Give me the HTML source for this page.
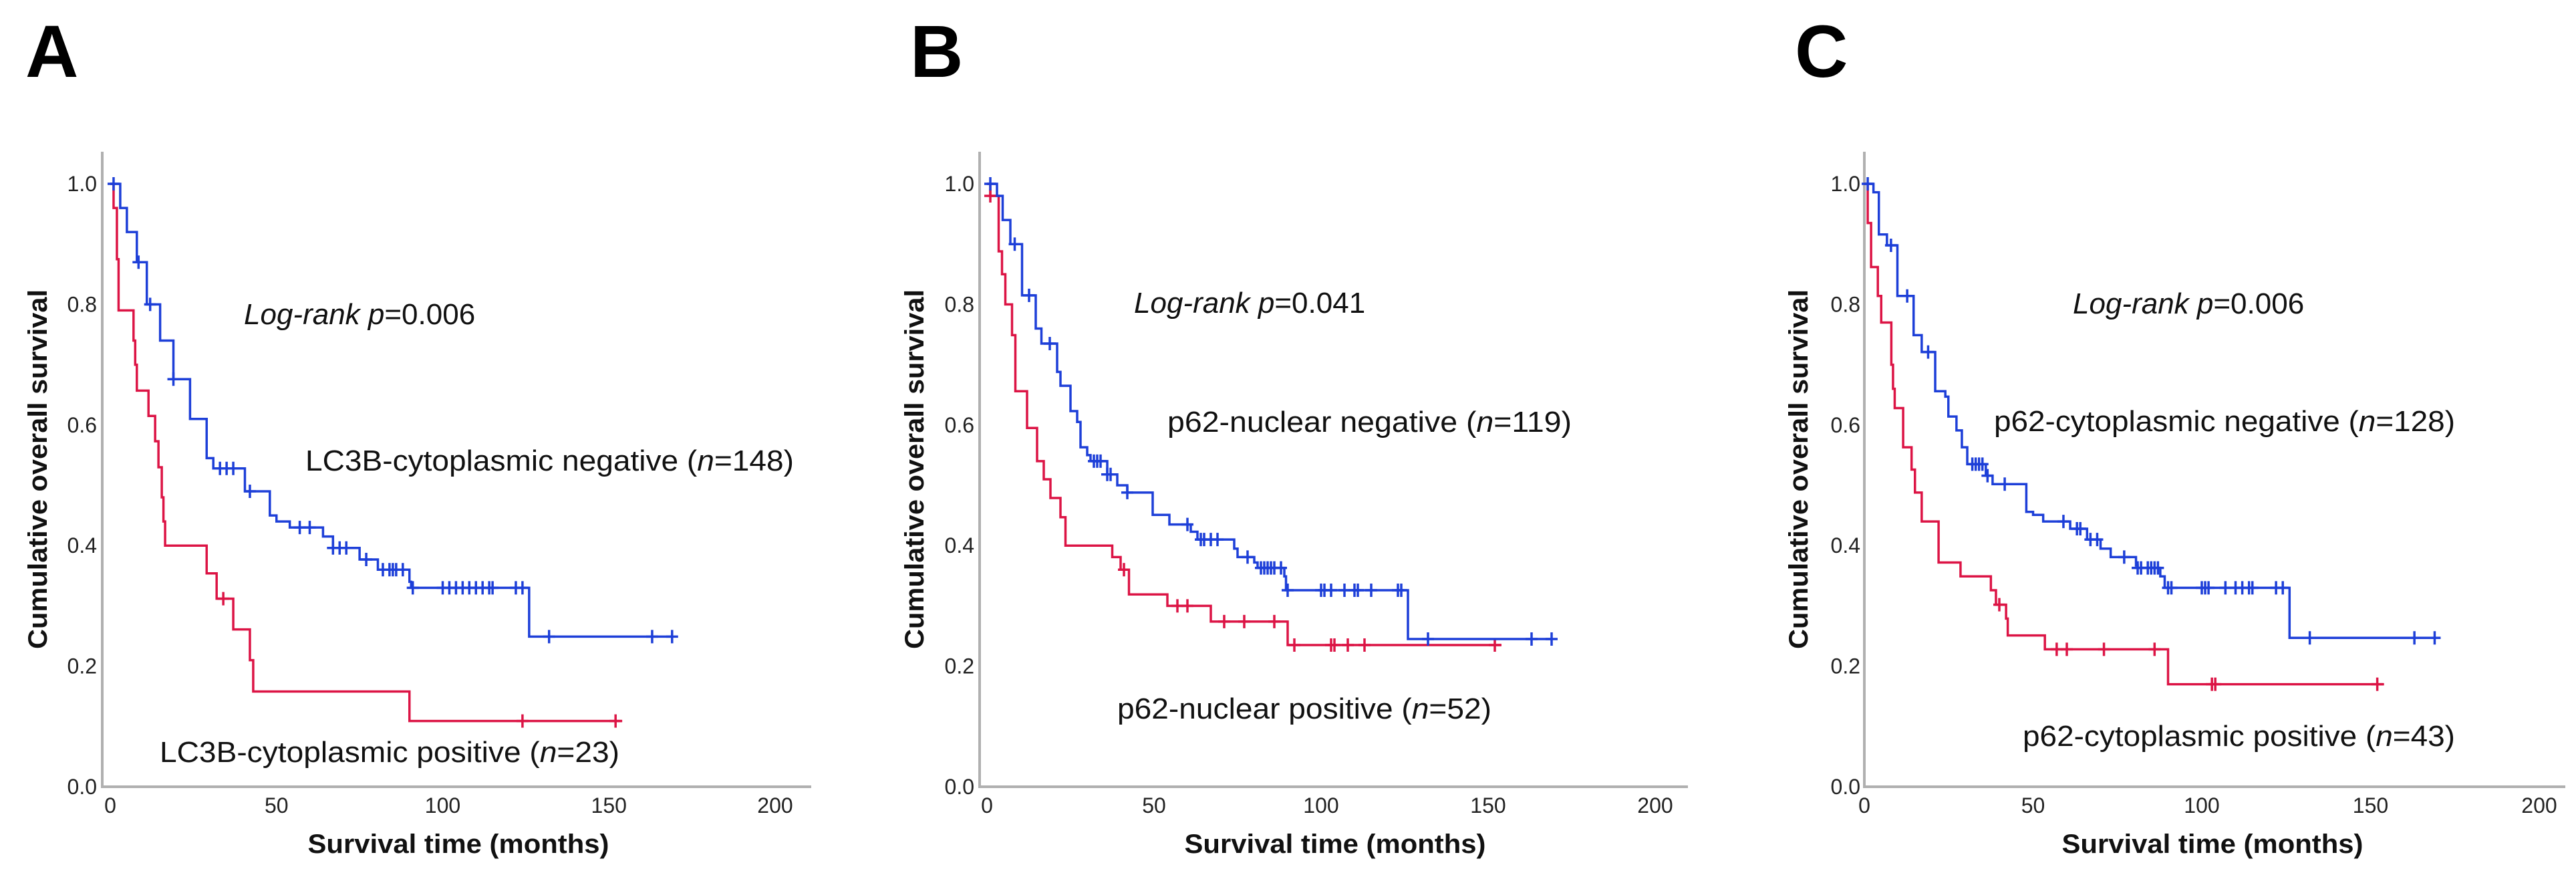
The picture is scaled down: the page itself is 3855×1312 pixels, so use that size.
<!DOCTYPE html>
<html><head><meta charset="utf-8"><style>
html,body{margin:0;padding:0;background:#fff;}
svg{display:block;}
</style></head><body>
<svg id="fig" width="3855" height="1312" viewBox="0 0 3855 1312" xmlns="http://www.w3.org/2000/svg"></svg>
<script>
// ---- Panel A data ----
const aNegT=[3,5,8,11,15,19,24,29,31,40.5,48,50,54,64,67,75,80.5,90,90.5,126];
const aNegS=[0.96,0.92,0.87,0.80,0.74,0.676,0.61,0.545,0.528,0.49,0.45,0.44,0.43,0.415,0.396,0.377,0.36,0.34,0.33,0.249];
const aNegC=[1,8.5,12,19,33,35,37,42,57,60,67,69,71,77,82,84,85,86,88,91,100,102,104,106,108,110,112,114,115,122,124,132,163,169];
const aNegEnd=169;
const aPosT=[1,2,2.5,7,7.5,8,11.5,13.5,14.5,15.5,16,16.5,29,32,37,42,43,90];
const aPosS=[0.96,0.875,0.79,0.74,0.70,0.657,0.615,0.573,0.53,0.48,0.44,0.40,0.354,0.312,0.261,0.21,0.158,0.109];
const aPosC=[34,124,152];
const aPosEnd=154;
// ---- Panel B data ----
const bNegT=[3,4.7,7,10.5,14.6,16.3,21,22,25,27,28,30,31,36,39,42,49.6,54.6,61,63,74,75,80,81,89,89.5,126];
const bNegS=[0.98,0.94,0.90,0.815,0.76,0.735,0.688,0.665,0.623,0.605,0.563,0.55,0.54,0.518,0.50,0.488,0.451,0.435,0.423,0.41,0.395,0.381,0.372,0.363,0.349,0.326,0.245];
const bNegC=[1,8.3,12.6,18.8,32,33,34,36,37,42,60,64,65,67,69,78,82,83,84,85,86,88,90,100,101,103,107,110,111,115,123,124,132,163,169];
const bNegEnd=169;
const bPosT=[1,3.5,4.5,5.5,7.5,8.5,12,15,17,19,22,23.5,37.5,40,42.5,54,67,90];
const bPosS=[0.98,0.888,0.85,0.80,0.749,0.656,0.595,0.54,0.51,0.479,0.447,0.40,0.381,0.36,0.319,0.30,0.274,0.235];
const bPosC=[1,41,57,60,71,77,86,92,103,104,108,113,152];
const bPosEnd=154;
// ---- Panel C data ----
const cNegT=[2.7,4.3,6.7,9.8,14.6,17,21,24,24.9,27.3,28.9,30.5,36,38,48,50,53,61,66,70,73,80.5,81,87.7,89,126];
const cNegS=[0.986,0.916,0.898,0.814,0.749,0.721,0.656,0.647,0.614,0.591,0.563,0.535,0.516,0.502,0.456,0.451,0.44,0.428,0.41,0.395,0.381,0.367,0.363,0.349,0.33,0.247];
const cNegC=[1,7.9,12.7,18.9,32,33,34,35,36.5,41.6,59,63,64,67,69,77,81,82,84,85,86,87,90,91,100,101,102,107,110,112,114,115,122,124,132,163,169];
const cNegEnd=169;
const cPosT=[1,2,4,5,8,8.5,9,11.5,14,15,17,22,28.5,37.5,39,42,42.5,53.5,90];
const cPosS=[0.935,0.862,0.814,0.77,0.70,0.66,0.628,0.563,0.526,0.488,0.44,0.372,0.349,0.326,0.302,0.279,0.251,0.228,0.17];
const cPosC=[40,57,60,71,86,103,104,152];
const cPosEnd=154;
// ---- axis ticks ----
const xTicks=[0,50,100,150,200];
const yTicks=[0.0,0.2,0.4,0.6,0.8,1.0];
const yTickLabels=["0.0","0.2","0.4","0.6","0.8","1.0"];

const NS="http://www.w3.org/2000/svg";
const svg=document.getElementById('fig');
const BLUE="#1d3fd8", RED="#dc1445";
function mk(tag,attrs,parent){const e=document.createElementNS(NS,tag);for(const k in attrs)e.setAttribute(k,attrs[k]);(parent||svg).appendChild(e);return e;}
function sAt(T,S,t){let s=1;for(let i=0;i<T.length;i++){if(T[i]<=t)s=S[i];}return s;}

const panels=[
 {letter:"A",lx:38,off:0,x0:165,sx:4.975,axL:153,ylabR:145,
  neg:[aNegT,aNegS,aNegC,aNegEnd],pos:[aPosT,aPosS,aPosC,aPosEnd],
  p:"0.006",pL:[365,485],
  negLab:["LC3B-cytoplasmic negative (","148",")"],negL:[457,704,731],
  posLab:["LC3B-cytoplasmic positive (","23",")"],posL:[239,1140,688]},
 {letter:"B",lx:1362,off:1312,x0:1477,sx:5.0,axL:1466,ylabR:1458,
  neg:[bNegT,bNegS,bNegC,bNegEnd],pos:[bPosT,bPosS,bPosC,bPosEnd],
  p:"0.041",pL:[1697,468],
  negLab:["p62-nuclear negative (","119",")"],negL:[1747,646,605],
  posLab:["p62-nuclear positive (","52",")"],posL:[1672,1075,560]},
 {letter:"C",lx:2686,off:2625,x0:2790,sx:5.05,axL:2790,ylabR:2784,
  neg:[cNegT,cNegS,cNegC,cNegEnd],pos:[cPosT,cPosS,cPosC,cPosEnd],
  p:"0.006",pL:[3102,469],
  negLab:["p62-cytoplasmic negative (","128",")"],negL:[2984,645,690],
  posLab:["p62-cytoplasmic positive (","43",")"],posL:[3027,1116,647]}
];
const Y0=1177, Y1=275;
const yS=v=>Y0-(Y1-Y0)*-v;
panels.forEach((P,pi)=>{
  const g=mk('g',{});
  
  
  const xS=t=>P.x0+t*P.sx;
  const L=mk('text',{x:P.lx,y:115,'font-family':'Liberation Sans, sans-serif','font-weight':'bold','font-size':110,fill:'#000'},g);
  L.textContent=P.letter;
  
  
  // axes
  const ax=mk('path',{d:`M${P.axL} 227 V${Y0} H${P.off+1214}`,stroke:'#b0b0b0','stroke-width':4,fill:'none'},g);
  
  
  yTicks.forEach((v,i)=>{
    const t=mk('text',{x:P.ylabR,y:yS(v)+11,'text-anchor':'end','font-family':'Liberation Sans, sans-serif','font-size':32,fill:'#222'},g);
    t.textContent=yTickLabels[i];
    
    
  });
  xTicks.forEach(v=>{
    const t=mk('text',{x:xS(v),y:1216,'text-anchor':'middle','font-family':'Liberation Sans, sans-serif','font-size':32,fill:'#222'},g);
    t.textContent=String(v);
    
    
  });
  const xt=mk('text',{x:P.off+686,y:1276,'text-anchor':'middle','font-family':'Liberation Sans, sans-serif','font-weight':'bold','font-size':40,fill:'#111',textLength:451,lengthAdjust:'spacingAndGlyphs'},g);
  xt.textContent="Survival time (months)";
  
  
  const ycx=P.off+70+(pi===2?10:0);
  const yt=mk('text',{x:ycx,y:702,transform:`rotate(-90 ${ycx} 702)`,'text-anchor':'middle','font-family':'Liberation Sans, sans-serif','font-weight':'bold','font-size':40,fill:'#111',textLength:538,lengthAdjust:'spacingAndGlyphs'},g);
  yt.textContent="Cumulative overall survival";
  
  
  // curves
  [[P.pos,RED,'positive'],[P.neg,BLUE,'negative']].forEach(([D,col,nm])=>{
    const [T,S,C,E]=D;
    let d=`M${xS(0)} ${yS(1)}`;
    for(let i=0;i<T.length;i++){d+=` H${xS(T[i])} V${yS(S[i])}`;}
    d+=` H${xS(E)}`;
    const p=mk('path',{d:d,stroke:col,'stroke-width':3.5,fill:'none'},g);
    
    
    C.forEach(t=>{
      const cx=xS(t), cy=yS(sAt(T,S,t));
      const m=mk('path',{d:`M${cx-9} ${cy} H${cx+9} M${cx} ${cy-10} V${cy+10}`,stroke:col,'stroke-width':3.5,fill:'none'},g);
      
      
    });
  });
  // annotations
  const lr=mk('text',{x:P.pL[0],y:P.pL[1],'font-family':'Liberation Sans, sans-serif','font-size':44,fill:'#111'},g);
  lr.innerHTML='<tspan font-style="italic">Log-rank p</tspan>=0.'+P.p.slice(2);
  
  
  [[P.negLab,P.negL,'negative-label'],[P.posLab,P.posL,'positive-label']].forEach(([lab,pos,nm])=>{
    const t=mk('text',{x:pos[0],y:pos[1],'font-family':'Liberation Sans, sans-serif','font-size':44,fill:'#111',textLength:pos[2],lengthAdjust:'spacingAndGlyphs'},g);
    t.innerHTML=lab[0]+'<tspan font-style="italic">n</tspan>='+lab[1]+lab[2];
    
    
  });
});
</script>
</body></html>
